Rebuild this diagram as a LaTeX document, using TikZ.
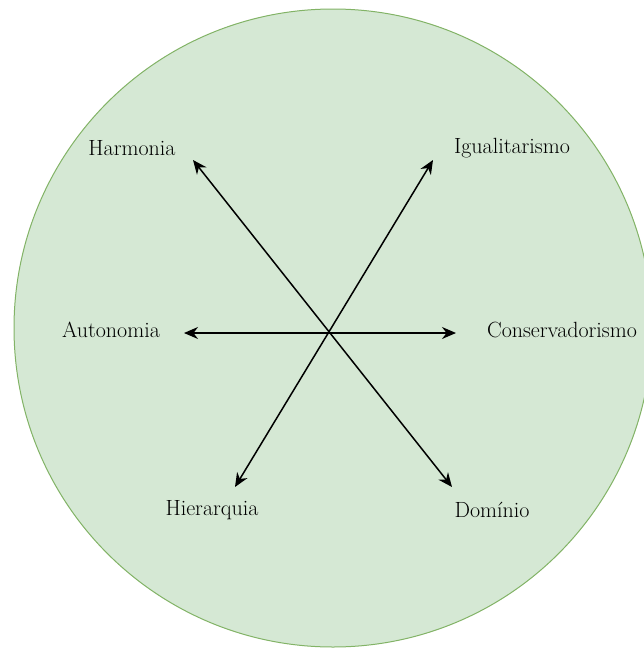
\documentclass[tikz,border=0pt]{standalone}
\usepackage{fontspec}
\usetikzlibrary{arrows.meta,positioning,calc}
\definecolor{circlefill}{HTML}{D5E8D4}
\definecolor{circledraw}{HTML}{82B366}
\tikzset{
    value/.style={font=\fontsize{22}{26}\selectfont, inner sep=0pt},
    axis/.style={line width=1.5pt, {Stealth[length=14pt,width=12pt]}-{Stealth[length=14pt,width=12pt]}}
}

\begin{document}
\begin{tikzpicture}[x=1pt, y=-1pt]
        \useasboundingbox (0,0) rectangle (644,648);
        \clip (0,0) rectangle (644,648);
        % Circle
        \draw [circledraw, fill=circlefill, line width=1pt] (333,328) circle (319);
        % Arrow tips
        \coordinate (harmTip) at (193,160);
        \coordinate (domTip) at (452,487);
        \coordinate (iguTip) at (433,160);
        \coordinate (hierTip) at (235,487);
        \coordinate (autTip) at (184,333);
        \coordinate (consTip) at (456,333);
        % Labels
         \node [value] (harm) at (132,148) {Harmonia};
         \node [value] (igu) at (512,148) {Igualitarismo};
         \node [value] (aut) at (111,330) {Autonomia};
         \node [value] (cons) at (562,330) {Conservadorismo};
         \node [value] (hier) at (212,510) {Hierarquia};
         \node [value] (dom) at (492,510) {Domínio};
        % Arrows
        \draw [axis] (harmTip) -- (domTip);
        \draw [axis] (hierTip) -- (iguTip);
        \draw [axis] (autTip) -- (consTip);
\end{tikzpicture}
\end{document}
